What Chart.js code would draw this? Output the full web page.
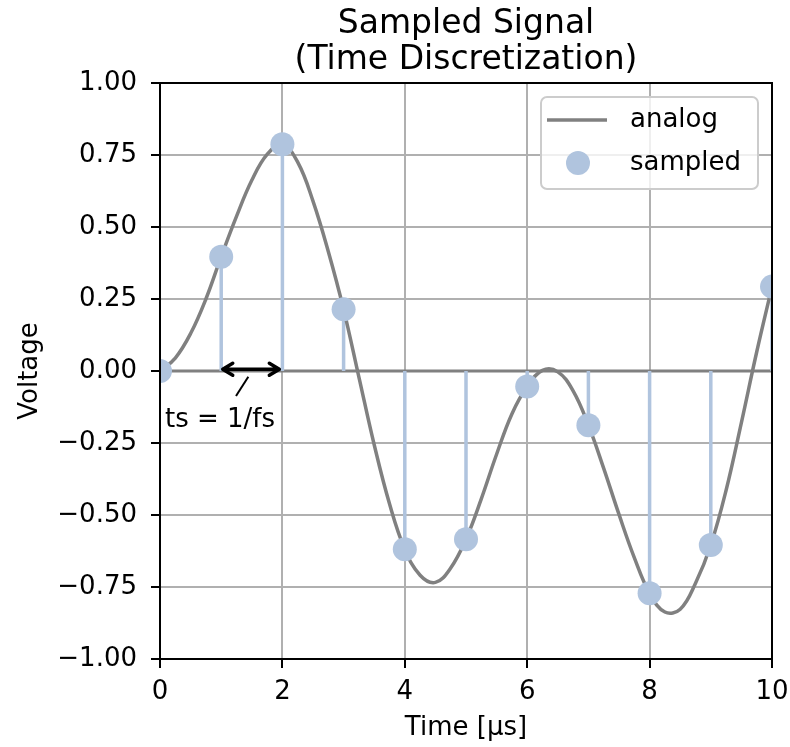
<!DOCTYPE html>
<html>
<head>
<meta charset="utf-8">
<script src="https://cdn.jsdelivr.net/npm/chart.js@4.4.1/dist/chart.umd.min.js"></script>
<style>
  html, body { margin: 0; padding: 0; background: #fff; }
</style>
</head>
<body>
<canvas id="sig" width="790" height="747"></canvas>
<script>
// analog waveform, read every 0.25 µs
const analogTime = [0, 0.25, 0.5, 0.75, 1, 1.25, 1.5, 1.75, 2, 2.25, 2.5, 2.75, 3, 3.25, 3.5, 3.75,
  4, 4.25, 4.5, 4.75, 5, 5.25, 5.5, 5.75, 6, 6.25, 6.5, 6.75, 7, 7.25, 7.5, 7.75,
  8, 8.25, 8.5, 8.75, 9, 9.25, 9.5, 9.75, 10];
const analogVolt = [0, 0.045, 0.13, 0.25, 0.397, 0.537, 0.662, 0.752, 0.787, 0.725, 0.59, 0.415, 0.214, -0.021, -0.256, -0.461,
  -0.619, -0.709, -0.734, -0.684, -0.584, -0.444, -0.289, -0.149, -0.054, 0.002, -0.003, -0.069, -0.188, -0.338, -0.498, -0.648,
  -0.772, -0.837, -0.827, -0.737, -0.604, -0.414, -0.179, 0.066, 0.293];

// one sample per µs
const sampleTime = [0, 1, 2, 3, 4, 5, 6, 7, 8, 9, 10];
const sampleVolt = [0, 0.397, 0.787, 0.214, -0.619, -0.584, -0.054, -0.188, -0.772, -0.604, 0.293];

const xTicks = [0, 2, 4, 6, 8, 10];
const yTicks = [-1, -0.75, -0.5, -0.25, 0, 0.25, 0.5, 0.75, 1];

const titleLines = ['Sampled Signal', '(Time Discretization)'];
const seriesNames = ['analog', 'sampled'];

// ts annotation, in data units
const periodFrom = 1.025, periodTo = 1.95, periodLevel = 0.006;
const periodText = 'ts = 1/fs';
const periodTextAt = [0.98, -0.194];
const periodLead = [[1.242, -0.087], [1.443, -0.02]];

const FONT = "'DejaVu Sans', sans-serif";
const GRAY = '#808080';
const STEEL = '#b0c4de';

Chart.defaults.font.family = FONT;
Chart.defaults.font.size = 26;
Chart.defaults.color = '#000';

// stems: (t,0) -> (t,v), broken by a gap
const stemPoints = [];
sampleTime.forEach((t, i) => {
    stemPoints.push({x: t, y: 0}, {x: t, y: sampleVolt[i]}, {x: t, y: null});
});

const fmtTick = v => (v < 0 ? '\u2212' : '') + Math.abs(v).toFixed(2);

// frame, title, legend and the ts arrow
const decorations = {
    id: 'decorations',
    afterDatasetsDraw(chart) {
        const {ctx, chartArea: a, scales: {x, y}} = chart;
        ctx.save();

        ctx.strokeStyle = '#000';
        ctx.lineWidth = 2;
        ctx.strokeRect(a.left, a.top, a.right - a.left, a.bottom - a.top);

        // title
        ctx.fillStyle = '#000';
        ctx.font = '33px ' + FONT;
        ctx.textAlign = 'center';
        ctx.textBaseline = 'alphabetic';
        const cx = (a.left + a.right) / 2;
        ctx.fillText(titleLines[0], cx, 33);
        ctx.fillText(titleLines[1], cx, 69);

        // period arrow
        const x1 = x.getPixelForValue(periodFrom);
        const x2 = x.getPixelForValue(periodTo);
        const ya = y.getPixelForValue(periodLevel);
        const hl = 10, hw = 6;
        ctx.lineWidth = 3.5;
        ctx.lineCap = 'round';
        ctx.lineJoin = 'round';
        ctx.beginPath();
        ctx.moveTo(x1, ya); ctx.lineTo(x2, ya);
        ctx.moveTo(x1 + hl, ya - hw); ctx.lineTo(x1, ya); ctx.lineTo(x1 + hl, ya + hw);
        ctx.moveTo(x2 - hl, ya - hw); ctx.lineTo(x2, ya); ctx.lineTo(x2 - hl, ya + hw);
        ctx.stroke();

        ctx.lineWidth = 2;
        ctx.lineCap = 'butt';
        ctx.beginPath();
        ctx.moveTo(x.getPixelForValue(periodLead[0][0]), y.getPixelForValue(periodLead[0][1]));
        ctx.lineTo(x.getPixelForValue(periodLead[1][0]), y.getPixelForValue(periodLead[1][1]));
        ctx.stroke();

        ctx.font = '26px ' + FONT;
        ctx.fillText(periodText, x.getPixelForValue(periodTextAt[0]), y.getPixelForValue(periodTextAt[1]));

        // legend box
        const bx = a.right - 14 - 217, by = a.top + 14, bw = 217, bh = 92;
        ctx.beginPath();
        ctx.roundRect(bx, by, bw, bh, 6);
        ctx.fillStyle = 'rgba(255,255,255,0.8)';
        ctx.fill();
        ctx.strokeStyle = '#cccccc';
        ctx.lineWidth = 2;
        ctx.stroke();

        const row1 = by + 23, row2 = by + 66;
        ctx.strokeStyle = GRAY;
        ctx.lineWidth = 3.5;
        ctx.beginPath();
        ctx.moveTo(bx + 6, row1); ctx.lineTo(bx + 66, row1);
        ctx.stroke();
        ctx.fillStyle = STEEL;
        ctx.beginPath();
        ctx.arc(bx + 37, row2, 12, 0, Math.PI * 2);
        ctx.fill();

        ctx.fillStyle = '#000';
        ctx.textAlign = 'left';
        ctx.textBaseline = 'middle';
        ctx.fillText(seriesNames[0], bx + 89, row1);
        ctx.fillText(seriesNames[1], bx + 89, row2);
        ctx.restore();
    }
};

new Chart(document.getElementById('sig'), {
    type: 'line',
    data: {
        datasets: [
            {
                label: seriesNames[1],
                data: sampleTime.map((t, i) => ({x: t, y: sampleVolt[i]})),
                showLine: false,
                pointRadius: 12,
                pointBorderWidth: 0,
                pointBackgroundColor: STEEL,
                clip: 0,
                order: 0
            },
            {
                label: seriesNames[0],
                data: analogTime.map((t, i) => ({x: t, y: analogVolt[i]})),
                borderColor: GRAY,
                borderWidth: 3.5,
                pointRadius: 0,
                tension: 0.4,
                clip: 0,
                order: 1
            },
            {
                label: 'stems',
                data: stemPoints,
                borderColor: STEEL,
                borderWidth: 3.5,
                pointRadius: 0,
                spanGaps: false,
                clip: 0,
                order: 2
            },
            {
                label: 'baseline',
                data: [{x: sampleTime[0], y: 0}, {x: sampleTime[sampleTime.length - 1], y: 0}],
                borderColor: GRAY,
                borderWidth: 3,
                pointRadius: 0,
                clip: 0,
                order: 3
            }
        ]
    },
    options: {
        responsive: false,
        animation: false,
        devicePixelRatio: 1,
        events: [],
        layout: {padding: {top: 83, right: 18, bottom: 0, left: 0}},
        plugins: {
            legend: {display: false},
            title: {display: false},
            tooltip: {enabled: false}
        },
        scales: {
            x: {
                type: 'linear',
                min: 0,
                max: 10,
                afterBuildTicks: s => { s.ticks = xTicks.map(v => ({value: v})); },
                afterFit: s => { s.height = 88; s.paddingLeft = 0; s.paddingRight = 0; },
                border: {display: false},
                grid: {color: '#b0b0b0', lineWidth: 2, tickLength: 9, tickColor: '#000', tickWidth: 2},
                ticks: {padding: 9, maxRotation: 0, callback: v => String(v)},
                title: {display: true, text: 'Time [µs]', padding: {top: 0, bottom: 3}}
            },
            y: {
                type: 'linear',
                min: -1,
                max: 1,
                afterBuildTicks: s => { s.ticks = yTicks.map(v => ({value: v})); },
                afterFit: s => { s.width = 160; },
                border: {display: false},
                grid: {color: '#b0b0b0', lineWidth: 2, tickLength: 9, tickColor: '#000', tickWidth: 2},
                ticks: {padding: 14, callback: v => fmtTick(v)},
                title: {display: true, text: 'Voltage', padding: {top: 15, bottom: 0}}
            }
        }
    },
    plugins: [decorations]
});
</script>
</body>
</html>
